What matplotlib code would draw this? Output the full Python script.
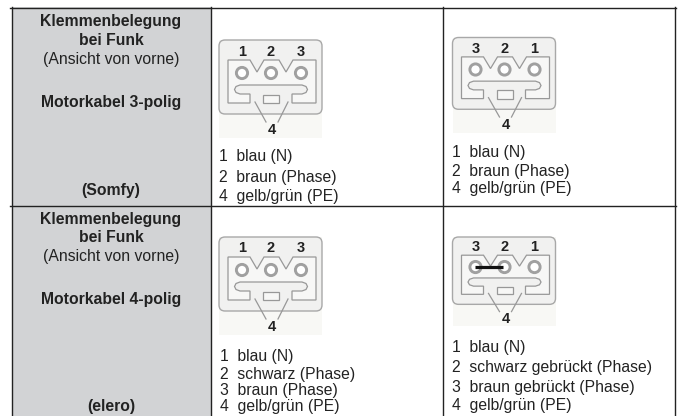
import matplotlib
matplotlib.use("Agg")
import matplotlib.pyplot as plt
from matplotlib.patches import Circle, FancyBboxPatch, Polygon, Rectangle

W, H = 681, 416

# table text
header_lines = ["Klemmenbelegung", "bei Funk", "(Ansicht von vorne)"]
motor_labels = ["Motorkabel 3-polig", "Motorkabel 4-polig"]
maker_labels = ["(Somfy)", "(elero)"]
legend_3_left = ["1  blau (N)", "2  braun (Phase)", "4  gelb/grün (PE)"]
legend_3_right = ["1  blau (N)", "2  braun (Phase)", "4  gelb/grün (PE)"]
legend_4_left = ["1  blau (N)", "2  schwarz (Phase)", "3  braun (Phase)", "4  gelb/grün (PE)"]
legend_4_right = ["1  blau (N)", "2  schwarz gebrückt (Phase)", "3  braun gebrückt (Phase)", "4  gelb/grün (PE)"]
pins_normal = ["1", "2", "3"]
pins_mirror = ["3", "2", "1"]

# connector outline in local pixels
body_outline = [(9, 20), (31, 20), (38, 32), (45, 20), (60, 20), (67, 32), (74, 20), (97, 20),
                (97, 63), (73, 63), (73, 54), (83, 54), (87, 52.5), (88.5, 49.5), (87, 46.5), (83, 45),
                (21, 45), (17, 46.5), (15.5, 49.5), (17, 52.5), (21, 54), (31, 54), (31, 63), (9, 63)]
pin_x = [23, 52, 82]
GREY = "#989898"
TEXT = "#222222"
FONT = 11.3


def draw_connector(ax, x0, y0, pins, sy=1.0, bridge=False):
    def sc(y):
        return y0 + y * sy

    ax.add_patch(Rectangle((x0, y0), 103, 98 * sy, fc="#f8f8f5", ec="none", zorder=1))
    ax.add_patch(FancyBboxPatch((x0, sc(0)), 103, 74 * sy, boxstyle="round,pad=0,rounding_size=6",
                                fc="#f1f1f0", ec="#a8a8a8", lw=1.0, zorder=2))
    ax.add_patch(Polygon([(x0 + px, sc(py)) for px, py in body_outline], closed=True,
                         fc="#f7f7f6", ec=GREY, lw=0.9, zorder=3))
    ax.add_patch(Rectangle((x0 + 44, sc(54.5)), 16, 8.5 * sy, fc="#f7f7f6", ec=GREY, lw=0.9, zorder=3))
    for px in pin_x:
        ax.add_patch(Circle((x0 + px, sc(33)), 5.6, fc="white", ec="#a0a0a0", lw=2.1, zorder=4))
    ax.plot([x0 + 36, x0 + 47], [sc(62), sc(82)], color=GREY, lw=0.9, zorder=3)
    ax.plot([x0 + 69, x0 + 59], [sc(62), sc(82)], color=GREY, lw=0.9, zorder=3)
    for px, label in zip(pin_x, pins):
        ax.text(x0 + px, sc(11.5), label, fontsize=10.5, ha="center", va="center", color=TEXT,
                fontweight="bold", zorder=5)
    ax.text(x0 + 53, sc(90), "4", fontsize=10.5, ha="center", va="center", color=TEXT,
            fontweight="bold", zorder=5)
    if bridge:
        ax.plot([x0 + 22, x0 + 50], [sc(33), sc(33)], color="#111111", lw=2.3,
                solid_capstyle="butt", zorder=6)


def draw_legend(ax, x, ys, lines):
    for line, y in zip(lines, ys):
        ax.text(x, y, line, fontsize=FONT, va="baseline", ha="left", color=TEXT)


def draw_header(ax, ys, motor, maker):
    for line, y, weight in zip(header_lines, ys[:3], ["bold", "bold", "normal"]):
        ax.text(111, y, line, fontsize=FONT, ha="center", va="baseline", color=TEXT, fontweight=weight)
    ax.text(111, ys[3], motor, fontsize=FONT, ha="center", va="baseline", color=TEXT, fontweight="bold")
    ax.text(111, ys[4], maker, fontsize=FONT, ha="center", va="baseline", color=TEXT, fontweight="bold")


plt.rcParams["font.family"] = ["Liberation Sans", "DejaVu Sans"]
fig = plt.figure(figsize=(W / 100, H / 100), dpi=100)
ax = fig.add_axes([0, 0, 1, 1])
ax.set_xlim(0, W)
ax.set_ylim(H, 0)
ax.axis("off")

# grey first column, then the grid
ax.add_patch(Rectangle((11.5, 7), 199.5, H - 7, fc="#d2d3d5", ec="none", zorder=0))
for x in [11.5, 211, 443, 675]:
    ax.plot([x, x], [7, H], color="#222222", lw=1.0, zorder=7)
for y in [7.5, 205.5]:
    ax.plot([10, 676], [y, y], color="#222222", lw=1.0, zorder=7)

draw_header(ax, [26, 45, 64, 107, 195], motor_labels[0], maker_labels[0])
draw_header(ax, [224, 242, 261, 304, 411.5], motor_labels[1], maker_labels[1])

draw_connector(ax, 219, 40, pins_normal)
draw_connector(ax, 452.5, 37.5, pins_mirror, sy=0.97)
draw_connector(ax, 219, 237, pins_normal)
draw_connector(ax, 452.5, 237, pins_mirror, sy=0.91, bridge=True)

draw_legend(ax, 219, [161, 182, 201], legend_3_left)
draw_legend(ax, 452.5, [157, 176, 193], legend_3_right)
draw_legend(ax, 220, [361, 379, 395, 411.5], legend_4_left)
draw_legend(ax, 452.5, [352, 372, 392, 410], legend_4_right)

fig.savefig("out.png", dpi=100)
